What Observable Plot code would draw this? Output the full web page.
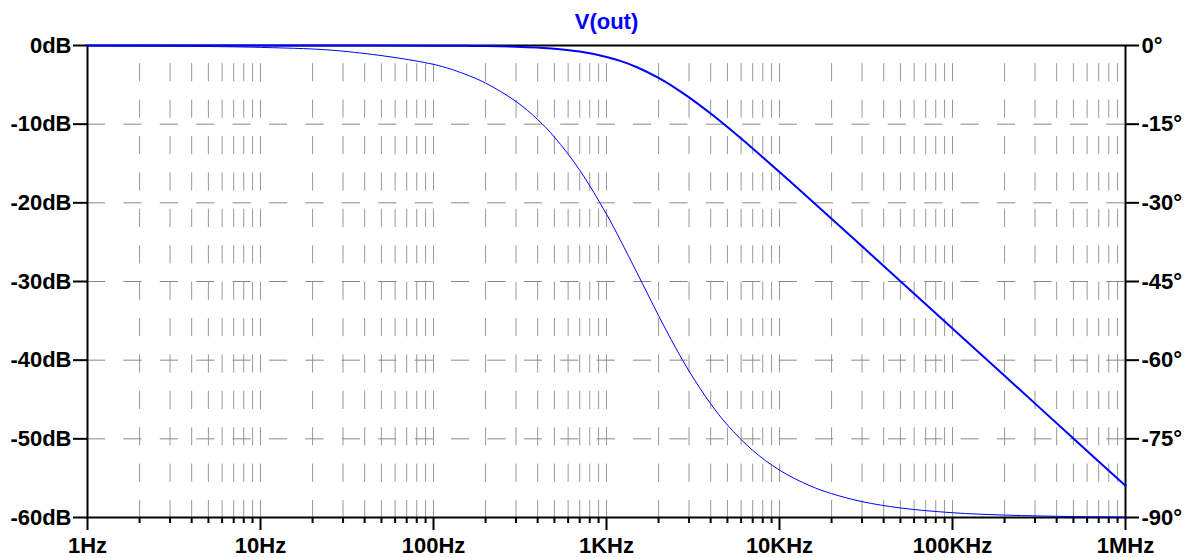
<!DOCTYPE html>
<html><head><meta charset="utf-8">
<script src="https://cdn.jsdelivr.net/npm/d3@7"></script>
<script src="https://cdn.jsdelivr.net/npm/@observablehq/plot@0.6"></script>
<style>
html,body{margin:0;padding:0;background:#fff;}
#chart svg{display:block;}
</style></head><body><div id="chart"></div>
<script>
// ---- data ----
const chartTitle = "V(out)";
const freqHz = [1, 10, 30, 100, 150, 200, 300, 400, 500, 700, 1000, 1200, 1500, 2000, 2500, 3000, 4000, 5000, 7000, 10000, 15000, 20000, 30000, 50000, 100000, 200000, 500000, 1000000];
const magnitudeDb = [0, 0, 0, -0.02, -0.04, -0.07, -0.15, -0.27, -0.41, -0.77, -1.45, -1.96, -2.76, -4.12, -5.41, -6.59, -8.65, -10.37, -13.09, -16.08, -19.54, -22.02, -25.53, -29.96, -35.97, -41.99, -49.95, -55.97];
const phaseDeg = [-0.04, -0.36, -1.08, -3.6, -5.39, -7.17, -10.68, -14.12, -17.46, -23.76, -32.17, -37.04, -43.33, -51.51, -57.54, -62.08, -68.32, -72.36, -77.2, -80.97, -83.95, -85.45, -86.97, -88.18, -89.09, -89.54, -89.82, -89.91];

const dbTicks = [0, -10, -20, -30, -40, -50, -60];
const dbTickLabels = ["0dB", "-10dB", "-20dB", "-30dB", "-40dB", "-50dB", "-60dB"];
const phaseTickLabels = ["0°", "-15°", "-30°", "-45°", "-60°", "-75°", "-90°"];
const decadeTicks = [1, 10, 100, 1000, 10000, 100000, 1000000];
const decadeTickLabels = ["1Hz", "10Hz", "100Hz", "1KHz", "10KHz", "100KHz", "1MHz"];
const gridDb = [-10, -20, -30, -40, -50];
const minorMultipliers = [2, 3, 4, 5, 6, 7, 8, 9];

// ---- derived tables ----
const decades = decadeTicks.slice(0, -1);
const minorTicks = decades.flatMap(d => minorMultipliers.map(m => m * d));
const gridFreqs = minorTicks.concat(decadeTicks.slice(1, -1));
const dbLabel = new Map(dbTicks.map((d, i) => [d, dbTickLabels[i]]));
const phaseLabel = new Map(dbTicks.map((d, i) => [d, phaseTickLabels[i]]));
const freqLabel = new Map(decadeTicks.map((d, i) => [d, decadeTickLabels[i]]));
const data = freqHz.map((f, i) => ({f, mag: magnitudeDb[i], phase: phaseDeg[i]}));
// right axis: 0..-90 degrees shares the frame with 0..-60 dB
const phaseToDb = p => p * 60 / 90;

const chart = Plot.plot({
  width: 1190, height: 558,
  marginLeft: 87, marginRight: 65, marginTop: 45, marginBottom: 41,
  style: {fontFamily: "'Liberation Sans', Arial, sans-serif", fontSize: "22px", fontWeight: "bold", color: "black", background: "white", overflow: "visible"},
  x: {type: "log", domain: [1, 1e6]},
  y: {domain: [-60, 0]},
  marks: [
    Plot.ruleX(gridFreqs, {stroke: "#999", strokeWidth: 1, strokeDasharray: "18.2,18.2", strokeDashoffset: 18.2}),
    Plot.ruleY(gridDb, {stroke: "#888", strokeWidth: 1, strokeDasharray: "18.2,18.2"}),
    Plot.frame({stroke: "black", strokeWidth: 2}),
    Plot.axisY(dbTicks, {anchor: "left", tickSize: 14, tickPadding: 2, strokeWidth: 2, tickFormat: d => dbLabel.get(d), label: null}),
    Plot.axisY(dbTicks, {anchor: "right", tickSize: 13, tickPadding: 3, strokeWidth: 2, tickFormat: d => phaseLabel.get(d), label: null}),
    Plot.axisX(minorTicks, {anchor: "bottom", tickSize: 6, strokeWidth: 2, tickFormat: () => "", label: null}),
    Plot.axisX(decadeTicks, {anchor: "bottom", tickSize: 13, tickPadding: 7, strokeWidth: 2, tickFormat: d => freqLabel.get(d), label: null}),
    Plot.line(data, {x: "f", y: d => phaseToDb(d.phase), stroke: "#0000ff", strokeWidth: 1, curve: "catmull-rom"}),
    Plot.line(data, {x: "f", y: "mag", stroke: "#0000ff", strokeWidth: 2, curve: "catmull-rom"}),
    Plot.text([chartTitle], {text: d => d, frameAnchor: "top", lineAnchor: "top", dy: -32, fill: "#0000ff", fontSize: 22, fontWeight: "bold"})
  ]
});
document.getElementById("chart").appendChild(chart);
</script>
</body></html>
